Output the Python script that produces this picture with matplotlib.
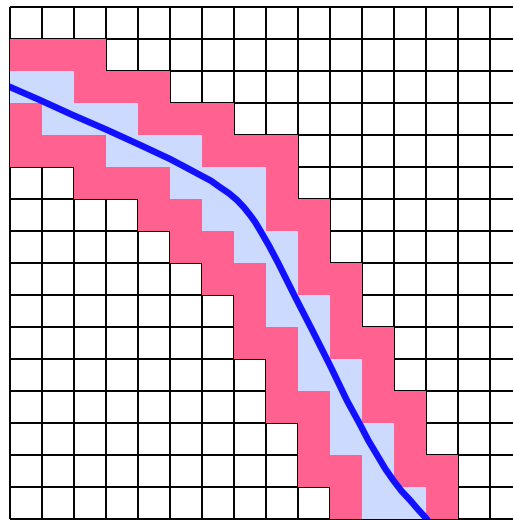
import matplotlib
matplotlib.use('Agg')
import matplotlib.pyplot as plt
import numpy as np

n_cells = 16
columns = np.arange(14)
# row spans (top row, first row below) for each column
pink_top = [1, 1, 1, 2, 2, 3, 3, 4, 4, 6, 8, 10, 12, 14]
pink_end = [5, 5, 6, 6, 7, 8, 9, 11, 13, 15, 16, 16, 16, 16]
blue_top = [2, 2, 3, 3, 4, 4, 5, 5, 7, 9, 11, 13, 15, 16]
blue_end = [3, 4, 4, 5, 5, 6, 7, 8, 10, 12, 14, 16, 16, 16]

# curve (grid units, y counted from the top)
curve_x = [-0.1, 0.0, 0.94, 1.97, 3.03, 4.06, 5.0, 5.53, 5.94, 6.28, 6.56, 6.84, 7.09, 7.3,
           7.5, 7.66, 7.81, 8.1, 8.38, 8.91, 9.44, 10.0, 10.53, 10.94, 11.2, 11.47, 11.72,
           11.97, 12.23, 12.5, 12.75, 12.97, 13.1]
curve_y = [2.46, 2.5, 2.91, 3.38, 3.84, 4.31, 4.75, 5.03, 5.25, 5.43, 5.63, 5.82, 6.03, 6.25,
           6.5, 6.72, 6.97, 7.47, 8.0, 9.06, 10.09, 11.2, 12.3, 13.05, 13.55, 14.0, 14.42,
           14.78, 15.12, 15.41, 15.7, 15.94, 16.1]

PINK = '#ff6190'
LIGHT = '#ccdaff'
BLUE = '#1111ff'


def main():
    fig = plt.figure(figsize=(5.13, 5.20), dpi=100)
    ax = fig.add_axes([10 / 513, 1 / 520, 512 / 513, 512 / 520])
    ax.set_xlim(0, n_cells)
    ax.set_ylim(n_cells, 0)
    ax.axis('off')

    k = np.arange(n_cells + 1)
    ax.vlines(k, 0, n_cells, color='black', linewidth=1.4, zorder=1, clip_on=False)
    ax.hlines(k, 0, n_cells, color='black', linewidth=1.4, zorder=1, clip_on=False)

    pt, pe = np.array(pink_top), np.array(pink_end)
    bt, be = np.array(blue_top), np.array(blue_end)
    ax.bar(columns + 0.5, pe - pt, bottom=pt, width=1.0, color=PINK, linewidth=0, zorder=2)
    ax.bar(columns + 0.5, be - bt, bottom=bt, width=1.0, color=LIGHT, linewidth=0, zorder=3)

    ax.plot(curve_x, curve_y, color=BLUE, linewidth=4.7, solid_joinstyle='round', zorder=4)

    fig.savefig('out.png', dpi=100)


if __name__ == '__main__':
    main()
